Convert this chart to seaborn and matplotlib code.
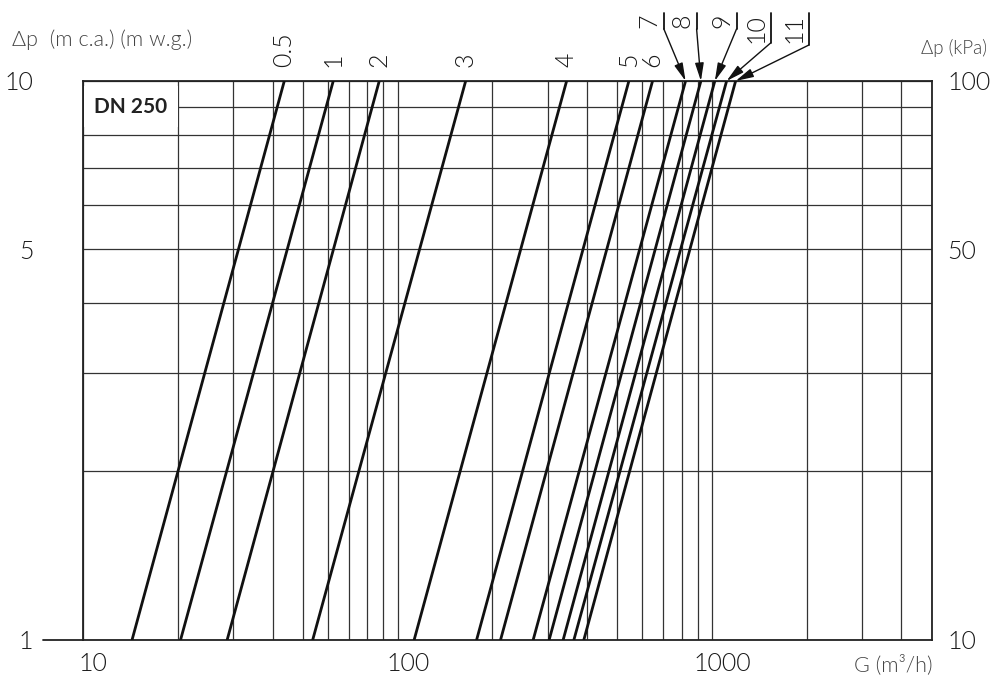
import numpy as np
import pandas as pd
import seaborn as sns
import matplotlib.pyplot as plt
from matplotlib.ticker import NullFormatter
from matplotlib.transforms import ScaledTranslation

# valve positions and the flow G (m3/h) read at dp = 1 m and dp = 10 m
positions = ['0.5', '1', '2', '3', '4', '5', '6', '7', '8', '9', '10', '11']
g_at_1m = [14.3, 20.4, 28.7, 53.7, 112.9, 178.4, 212.6, 270, 303.5, 336.3, 363.8, 391.3]
g_at_10m = [43.6, 62.4, 87.4, 164.6, 344.8, 544, 647, 824, 922, 1021, 1113, 1189]
dp_ends = [1, 10]

x_ticks = [10, 100, 1000]
y_ticks = [1, 5, 10]
kpa_ticks = [10, 50, 100]

rows = []
for p, g1, g10 in zip(positions, g_at_1m, g_at_10m):
    rows.append({'pos': p, 'G': g1, 'dp': dp_ends[0]})
    rows.append({'pos': p, 'G': g10, 'dp': dp_ends[1]})
df = pd.DataFrame(rows)

sns.set_style('white')
plt.rcParams['font.family'] = ['Lato', 'DejaVu Sans']
txt_col = '#444444'
num_col = '#1a1a1a'
fw = 300

fig = plt.figure(figsize=(9.95, 6.8), dpi=100)
ax = fig.add_axes([0.0837, 0.0593, 0.8527, 0.8216])
ax.set_xscale('log')
ax.set_yscale('log')
ax.set_xlim(10, 5000)
ax.set_ylim(1, 10)

sns.lineplot(data=df, x='G', y='dp', units='pos', estimator=None, sort=False,
             color='#111111', lw=2, ax=ax, zorder=3)

ax.grid(True, which='both', color='#333333', lw=0.9)
ax.set_axisbelow(True)
for s in ax.spines.values():
    s.set_color('#222222')
    s.set_linewidth(1.3)

ax.set_xticks(x_ticks)
ax.set_xticklabels([str(t) for t in x_ticks], fontweight=fw)
ax.set_yticks(y_ticks)
ax.set_yticklabels([str(t) for t in y_ticks], fontweight=fw)
ax.xaxis.set_minor_formatter(NullFormatter())
ax.yaxis.set_minor_formatter(NullFormatter())
ax.tick_params(axis='both', which='both', length=0, labelsize=18, labelcolor=num_col)
ax.tick_params(axis='y', pad=36)
ax.tick_params(axis='x', pad=9)
for lab in ax.get_xticklabels():
    lab.set_transform(lab.get_transform() + ScaledTranslation(10 / 100, 0, fig.dpi_scale_trans))
ax.set_xlabel('')
ax.set_ylabel('')

ax2 = ax.twinx()
ax2.set_yscale('log')
ax2.set_ylim(10, 100)
ax2.set_yticks(kpa_ticks)
ax2.set_yticklabels([str(t) for t in kpa_ticks], fontweight=fw)
ax2.yaxis.set_minor_formatter(NullFormatter())
ax2.tick_params(axis='y', which='both', length=0, labelsize=18, labelcolor=num_col, pad=11)
for s in ax2.spines.values():
    s.set_visible(False)

# bottom axis line runs on under the "1" label
ax.plot([-0.0475, 0], [0, 0], transform=ax.transAxes, clip_on=False,
        color='#222222', lw=1.3)

ax.text(14.14, 9.0, 'DN 250', ha='center', va='center', fontsize=15,
        fontweight='bold', color='#222222', zorder=2.5,
        bbox=dict(facecolor='white', edgecolor='none', boxstyle='square,pad=0.5'))

# labels above the line ends
direct = positions[:7]
for p, g in zip(direct, g_at_10m[:7]):
    ax.annotate(p, xy=(g, 10), xytext=(0, 14), textcoords='offset pixels',
                rotation=90, ha='center', va='bottom', fontsize=18, fontweight=fw,
                color=num_col, annotation_clip=False)

# leader lines for the crowded ones: (bar dx, bar bottom dy) in pixels from the tip
leaders = [(-21.7, 52), (-4.3, 52), (21.7, 52), (44, 38), (73.3, 36)]
bar_top = 68
inv = ax.transData.inverted()
for p, g, (dx, dy) in zip(positions[7:], g_at_10m[7:], leaders):
    tip = ax.transData.transform((g, 10))
    b0 = inv.transform(tip + np.array([dx, dy]))
    b1 = inv.transform(tip + np.array([dx, bar_top]))
    ax.plot([b0[0], b1[0]], [b0[1], b1[1]], color='#111111', lw=1.3, clip_on=False)
    ax.annotate('', xy=(g, 10), xytext=(b0[0], b0[1]),
                arrowprops=dict(arrowstyle='-|>,head_length=0.9,head_width=0.22',
                                color='#111111', lw=1, shrinkA=0, shrinkB=0,
                                mutation_scale=12),
                annotation_clip=False)
    ax.annotate(p, xy=(g, 10), xytext=(dx - 2, bar_top - 1), textcoords='offset pixels',
                rotation=90, ha='right', va='top', fontsize=18, fontweight=fw,
                color=num_col, annotation_clip=False)

fig.text(12 / 995, 1 - 40 / 680, 'Δp  (m c.a.) (m w.g.)', ha='left', va='center',
         fontsize=15.5, fontweight=fw, color=txt_col)
fig.text(987 / 995, 1 - 48 / 680, 'Δp (kPa)', ha='right', va='center',
         fontsize=13.5, fontweight=fw, color=txt_col)
fig.text(933 / 995, 1 - 665 / 680, 'G (m³/h)', ha='right', va='center',
         fontsize=15.5, fontweight=fw, color=txt_col)

fig.savefig('out.png', dpi=100)
